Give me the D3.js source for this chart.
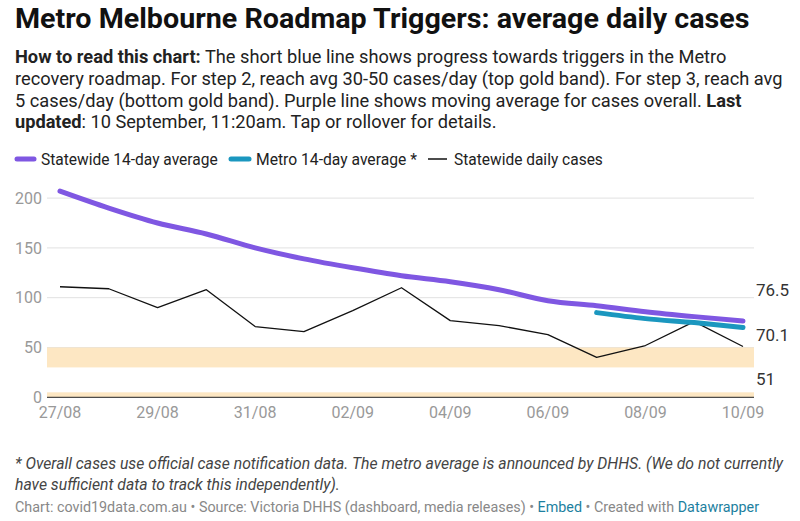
<!DOCTYPE html>
<html><head><meta charset="utf-8">
<script src="https://cdn.jsdelivr.net/npm/d3@7"></script>
<style>
html,body{margin:0;padding:0;background:#fff;}
svg{display:block;font-family:Roboto,"Noto Sans",sans-serif;}
</style></head>
<body>
<svg id="chart" width="800" height="521"></svg>
<script>
// ---- data ----
const dates = ["2020-08-27","2020-08-28","2020-08-29","2020-08-30","2020-08-31","2020-09-01","2020-09-02","2020-09-03","2020-09-04","2020-09-05","2020-09-06","2020-09-07","2020-09-08","2020-09-09","2020-09-10"];
const statewideAvg = [207,190,175,164,150,139,130,122,116,108,97,92,86,81,76.5];
const metroAvg = [null,null,null,null,null,null,null,null,null,null,null,85,79,75,70.1];
const dailyCases = [111,109,90,108,71,66,87,110,77,72,63,40,52,76,51];
const yTicks = [0,50,100,150,200];
const xTickDates = ["2020-08-27","2020-08-29","2020-08-31","2020-09-02","2020-09-04","2020-09-06","2020-09-08","2020-09-10"];
const bands = [[30,50],[0,5]];

const parse = d3.timeParse("%Y-%m-%d");
const svg = d3.select("#chart");

function fit(sel, x0, right){
  const n = sel.node();
  const w = n.getBBox().width;
  const s = (right - x0) / w;
  sel.attr("transform", `translate(${x0},0) scale(${s},1) translate(${-x0},0)`);
}

// ---- title ----
const title = svg.append("text").attr("x",15).attr("y",28)
  .attr("font-size",28).attr("font-weight",700).attr("fill","#111")
  .text("Metro Melbourne Roadmap Triggers: average daily cases");
fit(title,15,750);

// ---- description ----
const desc = [
  {y:63, right:727, parts:[["How to read this chart:",true],[" The short blue line shows progress towards triggers in the Metro",false]]},
  {y:85, right:783, parts:[["recovery roadmap. For step 2, reach avg 30-50 cases/day (top gold band). For step 3, reach avg",false]]},
  {y:107, right:742, parts:[["5 cases/day (bottom gold band). Purple line shows moving average for cases overall. ",false],["Last",true]]},
  {y:128, right:497, parts:[["updated",true],[": 10 September, 11:20am. Tap or rollover for details.",false]]}
];
desc.forEach(l=>{
  const t = svg.append("text").attr("x",15).attr("y",l.y).attr("font-size",18.5).attr("fill","#222");
  l.parts.forEach(p=>t.append("tspan").attr("font-weight",p[1]?700:400).text(p[0]));
  fit(t,15,l.right);
});

// ---- scales ----
const x = d3.scaleTime().domain([parse(dates[0]), parse(dates[dates.length-1])]).range([60,743]);
const y = d3.scaleLinear().domain([0,200]).range([397.3,198.1]);
const gridX0 = 47, gridX1 = 754;

// ---- legend ----
const legend = [
  {label:"Statewide 14-day average", color:"#7f57e2", w:5, sx0:17, sx1:34, tx:41, tr:218},
  {label:"Metro 14-day average *", color:"#1b97bf", w:5, sx0:231, sx1:249, tx:256, tr:417},
  {label:"Statewide daily cases", color:"#111", w:1.5, sx0:428, sx1:447, tx:454, tr:603}
];
legend.forEach(l=>{
  svg.append("line").attr("x1",l.sx0).attr("x2",l.sx1).attr("y1",159).attr("y2",159)
    .attr("stroke",l.color).attr("stroke-width",l.w).attr("stroke-linecap",l.w>2?"round":"butt");
  const t = svg.append("text").attr("x",l.tx).attr("y",165).attr("font-size",16.5).attr("fill","#222").text(l.label);
  fit(t,l.tx,l.tr);
});

// ---- grid & y axis ----
const gy = svg.append("g");
yTicks.forEach(v=>{
  if(v>0) gy.append("line").attr("x1",gridX0).attr("x2",gridX1).attr("y1",y(v)).attr("y2",y(v))
    .attr("stroke","#e1e1e1").attr("stroke-width",1);
  gy.append("text").attr("x",42).attr("y",y(v)).attr("dy","0.35em").attr("text-anchor","end")
    .attr("font-size",16).attr("fill","#999").text(v);
});

// ---- bands ----
svg.append("g").selectAll("rect").data(bands).join("rect")
  .attr("x",gridX0).attr("width",gridX1-gridX0)
  .attr("y",d=>y(d[1])).attr("height",d=>y(d[0])-y(d[1]))
  .attr("fill","#fde7c3");

// baseline
svg.append("line").attr("x1",gridX0).attr("x2",gridX1).attr("y1",y(0)).attr("y2",y(0))
  .attr("stroke","#222").attr("stroke-width",1);

// ---- x axis labels ----
svg.append("g").selectAll("text").data(xTickDates).join("text")
  .attr("x",d=>x(parse(d))).attr("y",418).attr("text-anchor","middle")
  .attr("font-size",16).attr("fill","#999").text(d=>d3.timeFormat("%d/%m")(parse(d)));

// ---- lines ----
const rows = dates.map((d,i)=>({date:parse(d), s:statewideAvg[i], m:metroAvg[i], c:dailyCases[i]}));
const line = key => d3.line().defined(d=>d[key]!=null).x(d=>x(d.date)).y(d=>y(d[key])).curve(d3.curveMonotoneX);

svg.append("path").datum(rows).attr("d",d3.line().x(d=>x(d.date)).y(d=>y(d.c)))
  .attr("fill","none").attr("stroke","#111").attr("stroke-width",1.3).attr("stroke-linejoin","round");
svg.append("path").datum(rows).attr("d",line("s"))
  .attr("fill","none").attr("stroke","#7f57e2").attr("stroke-width",5).attr("stroke-linecap","round");
svg.append("path").datum(rows.filter(d=>d.m!=null)).attr("d",line("m"))
  .attr("fill","none").attr("stroke","#1b97bf").attr("stroke-width",5).attr("stroke-linecap","round");

// ---- end labels with dodging ----
const last = rows[rows.length-1];
let labs = [{v:last.s},{v:last.m},{v:last.c}].map(d=>({v:d.v, y:y(d.v)}));
labs.sort((a,b)=>a.y-b.y);
const gap = 44.5;
const mean = d3.mean(labs,d=>d.y);
labs.forEach((d,i)=>d.ly = mean + 3 + (i-(labs.length-1)/2)*gap);
svg.append("g").selectAll("text").data(labs).join("text")
  .attr("x",756).attr("y",d=>d.ly).attr("dy","0.35em")
  .attr("font-size",17).attr("fill","#333").text(d=>d.v);

// ---- footnotes ----
const f1 = svg.append("text").attr("x",15).attr("y",469).attr("font-size",16.5).attr("font-style","italic").attr("fill","#444")
  .text("* Overall cases use official case notification data. The metro average is announced by DHHS. (We do not currently");
fit(f1,15,785);
const f2 = svg.append("text").attr("x",15).attr("y",490).attr("font-size",16.5).attr("font-style","italic").attr("fill","#444")
  .text("have sufficient data to track this independently).");
fit(f2,15,340);
const cr = svg.append("text").attr("x",15).attr("y",512).attr("font-size",14.5).attr("fill","#888");
cr.append("tspan").text("Chart: covid19data.com.au • Source: Victoria DHHS (dashboard, media releases) • ");
cr.append("tspan").attr("fill","#1d7fa0").text("Embed");
cr.append("tspan").text(" • Created with ");
cr.append("tspan").attr("fill","#1d7fa0").text("Datawrapper");
fit(cr,15,760);
</script>
</body></html>
